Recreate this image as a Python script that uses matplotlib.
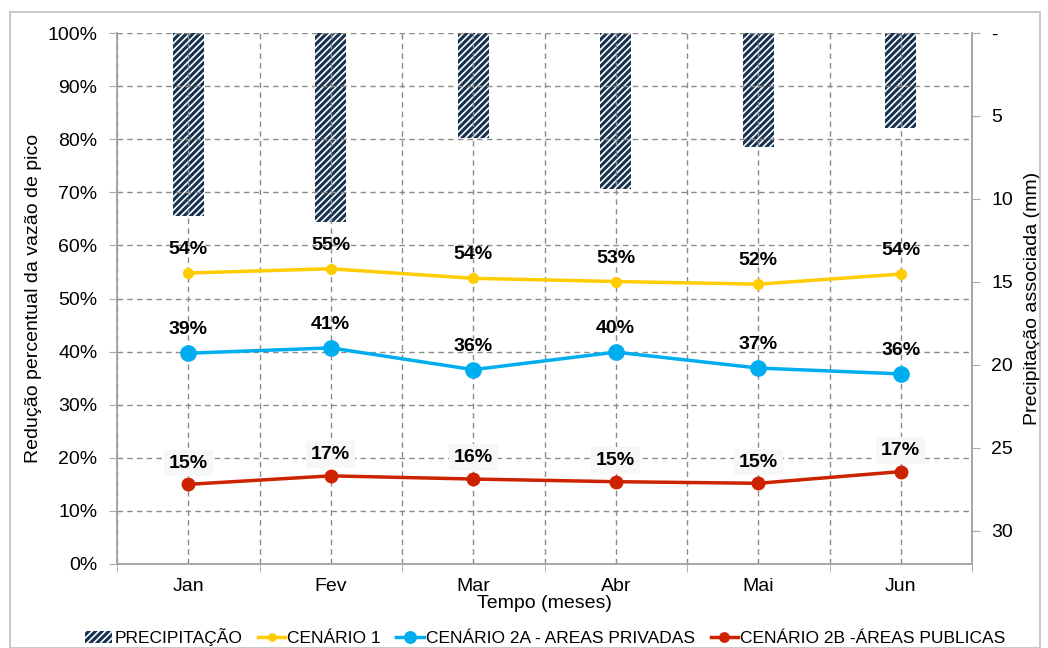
import matplotlib.pyplot as plt
import matplotlib.patches as mpatches
import numpy as np

plt.rcParams['font.family'] = ['Liberation Sans', 'DejaVu Sans']
plt.rcParams['hatch.linewidth'] = 2.2

months = ['Jan', 'Fev', 'Mar', 'Abr', 'Mai', 'Jun']
precip = [11.0, 11.4, 6.3, 9.4, 6.9, 5.7]
cen1 = [0.548, 0.556, 0.538, 0.532, 0.527, 0.546]
cen2a = [0.397, 0.407, 0.366, 0.399, 0.369, 0.358]
cen2b = [0.150, 0.166, 0.160, 0.155, 0.152, 0.174]
lab1 = ['54%', '55%', '54%', '53%', '52%', '54%']
lab2a = ['39%', '41%', '36%', '40%', '37%', '36%']
lab2b = ['15%', '17%', '16%', '15%', '15%', '17%']

x = np.arange(len(months))
gray = '#a6a6a6'
navy = '#17324f'

fig = plt.figure(figsize=(10.48, 6.48), dpi=100)
ax = fig.add_axes([117/1048, 1 - 564/648, 855/1048, 531/648])
ax2 = ax.twinx()

# precipitation bars hanging from top (inverted right axis)
ax2.bar(x, precip, width=0.22, color='white', edgecolor=navy, hatch='/////',
        linewidth=0, label='PRECIPITAÇÃO', zorder=2)
ax2.set_ylim(32, 0)
ax2.set_yticks([0, 5, 10, 15, 20, 25, 30])
ax2.set_yticklabels(['-', '5', '10', '15', '20', '25', '30'])
ax2.set_ylabel('Precipitação associada (mm)', fontsize=14, labelpad=8)

ax.set_zorder(ax2.get_zorder() + 1)
ax.patch.set_visible(False)

l1, = ax.plot(x, cen1, color='#ffcc00', lw=2.5, marker='o', ms=7, label='CENÁRIO 1', zorder=4)
l2, = ax.plot(x, cen2a, color='#00aef0', lw=2.5, marker='o', ms=11, label='CENÁRIO 2A - AREAS PRIVADAS', zorder=4)
l3, = ax.plot(x, cen2b, color='#cc2200', lw=2.5, marker='o', ms=9, label='CENÁRIO 2B -ÁREAS PUBLICAS', zorder=4)

for ys, labs in [(cen1, lab1), (cen2a, lab2a)]:
    for xi, yi, t in zip(x, ys, labs):
        ax.text(xi, yi + 0.028, t, ha='center', va='bottom', fontsize=14, fontweight='bold', zorder=5)
for xi, yi, t in zip(x, cen2b, lab2b):
    ax.text(xi, yi + 0.024, t, ha='center', va='bottom', fontsize=14, fontweight='bold', zorder=5,
            bbox=dict(boxstyle='square,pad=0.25', fc='#f7f7f7', ec='none'))

ax.set_xlim(-0.5, 5.5)
ax.set_ylim(0, 1)
ax.set_yticks(np.arange(0, 1.01, 0.1))
ax.set_yticklabels([f'{int(round(v * 100))}%' for v in np.arange(0, 1.01, 0.1)])
ax.set_xticks(x)
ax.set_xticklabels(months)
ax.set_xticks(np.arange(-0.5, 5.6, 1), minor=True)
ax.tick_params(axis='x', which='major', length=0, pad=10, labelsize=14)
ax.tick_params(axis='x', which='minor', length=6, color=gray)
ax.tick_params(axis='y', labelsize=14, color=gray, length=6, pad=8)
ax2.tick_params(axis='y', labelsize=14, color=gray, length=6, pad=8)
ax.set_xlabel('Tempo (meses)', fontsize=14, labelpad=0)
ax.set_ylabel('Redução percentual da vazão de pico', fontsize=14, labelpad=4)

ax.grid(True, which='major', axis='both', color='#8c8c8c', ls=(0, (4, 3)), lw=1)
ax.grid(True, which='minor', axis='x', color='#8c8c8c', ls=(0, (4, 3)), lw=1)
for a in (ax, ax2):
    a.spines['top'].set_visible(False)
    for s in ('left', 'right', 'bottom'):
        a.spines[s].set_color(gray)
        a.spines[s].set_linewidth(1.2)

bar_handle = mpatches.Patch(facecolor='white', edgecolor=navy, hatch='/////', lw=0)
fig.legend([bar_handle, l1, l2, l3],
           ['PRECIPITAÇÃO', 'CENÁRIO 1', 'CENÁRIO 2A - AREAS PRIVADAS', 'CENÁRIO 2B -ÁREAS PUBLICAS'],
           loc='center', bbox_to_anchor=(0.520, 1 - 637/648), ncol=4, frameon=False,
           fontsize=12.5, handlelength=1.6, handletextpad=0.1, columnspacing=0.9, markerscale=0.75)

fig.patches.append(mpatches.Rectangle((10/1048, 0), 1030/1048, 1 - 12/648, transform=fig.transFigure,
                                      fill=False, ec='#bfbfbf', lw=1.2))

fig.savefig('out.png', dpi=100)
